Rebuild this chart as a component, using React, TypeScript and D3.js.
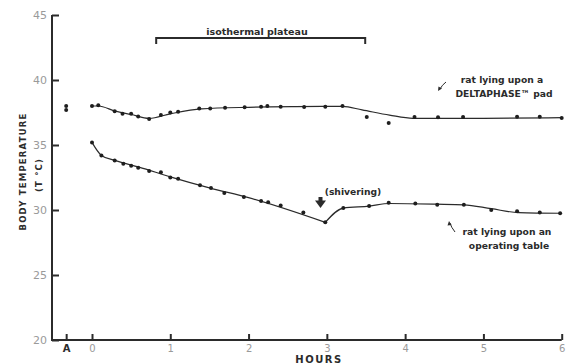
import React, { useEffect, useRef } from 'react';
import * as d3 from 'd3';

// rat lying upon a DELTAPHASE pad (measured dots)
const padHours = [0, 0.08, 0.29, 0.39, 0.5, 0.59, 0.73, 0.88, 1.0, 1.1, 1.37, 1.51, 1.7, 1.95, 2.16, 2.24, 2.41, 2.71, 2.98, 3.2, 3.51, 3.79, 4.12, 4.42, 4.74, 5.43, 5.72, 6.0];
const padTemps = [38.0, 38.05, 37.6, 37.4, 37.4, 37.2, 37.0, 37.3, 37.5, 37.55, 37.8, 37.8, 37.87, 37.9, 37.95, 38.0, 37.95, 37.92, 37.95, 38.0, 37.15, 36.7, 37.15, 37.13, 37.15, 37.18, 37.18, 37.08];

// rat lying upon an operating table (measured dots)
const tableHours = [0, 0.12, 0.29, 0.4, 0.5, 0.59, 0.73, 0.88, 1.0, 1.1, 1.38, 1.52, 1.69, 1.94, 2.16, 2.25, 2.41, 2.7, 2.98, 3.21, 3.54, 3.79, 4.13, 4.41, 4.75, 5.1, 5.43, 5.72, 5.98];
const tableTemps = [35.2, 34.2, 33.8, 33.55, 33.4, 33.25, 33.0, 32.9, 32.5, 32.4, 31.9, 31.7, 31.3, 31.0, 30.7, 30.6, 30.35, 29.8, 29.05, 30.15, 30.3, 30.55, 30.5, 30.4, 30.4, 30.0, 29.9, 29.8, 29.75];

// baseline readings at "A"
const baselineTemps = [38.0, 37.7];

// hand-drawn fitted curves
const padFitHours = [0, 0.08, 0.3, 0.5, 0.73, 1.0, 1.4, 2.0, 2.6, 3.2, 3.45, 3.8, 4.1, 5.0, 6.0];
const padFitTemps = [38.0, 38.0, 37.6, 37.35, 37.05, 37.4, 37.78, 37.9, 37.95, 37.97, 37.7, 37.3, 37.05, 37.05, 37.1];
const tableFitHoursA = [0, 0.12, 0.3, 0.6, 1.0, 1.5, 2.0, 2.98];
const tableFitTempsA = [35.2, 34.2, 33.8, 33.3, 32.55, 31.7, 30.95, 29.05];
const tableFitHoursB = [2.98, 3.21, 3.54, 3.8, 4.4, 4.75, 5.1, 5.45, 6.0];
const tableFitTempsB = [29.05, 30.15, 30.3, 30.5, 30.45, 30.4, 30.1, 29.8, 29.75];

const hourTicks = [0, 1, 2, 3, 4, 5, 6];
const tempTicks = [20, 25, 30, 35, 40, 45];
const A_POS = -0.33;

const W = 573;
const H = 364;
const ink = '#2b2b2b';
const font = 'DejaVu Sans, sans-serif';

export default function App() {
  const ref = useRef<SVGSVGElement>(null);

  useEffect(() => {
    const svg = d3.select(ref.current);
    svg.selectAll('*').remove();

    const x = d3.scaleLinear().domain([0, 6]).range([92, 561.7]);
    const y = d3.scaleLinear().domain([20, 45]).range([340, 15]);

    // y axis
    const yAxis = d3.axisLeft(y).tickValues(tempTicks).tickSizeInner(-7).tickSizeOuter(0).tickPadding(5);
    const gy = svg.append('g').attr('transform', 'translate(52,0)').call(yAxis);
    gy.select('.domain').remove();
    gy.selectAll('line').attr('stroke', ink).attr('stroke-width', 2);
    gy.selectAll('text').attr('fill', '#9a9a9a').attr('font-size', 11).attr('font-family', font);

    // x axis
    const xAxis = d3.axisBottom(x)
      .tickValues([A_POS, ...hourTicks])
      .tickFormat((d: any) => (d < 0 ? 'A' : String(d)))
      .tickSizeInner(-6).tickSizeOuter(0).tickPadding(5);
    const gx = svg.append('g').attr('transform', 'translate(0,340)').call(xAxis);
    gx.select('.domain').remove();
    gx.selectAll('line').attr('stroke', ink).attr('stroke-width', 2);
    gx.selectAll('text')
      .attr('font-family', font).attr('font-size', 10)
      .attr('fill', (d: any) => (d < 0 ? ink : '#9a9a9a'))
      .attr('font-weight', (d: any) => (d < 0 ? 'bold' : 'normal'));

    // axis lines
    svg.append('path').attr('d', `M52,${y(45)}V340H${x(6)}`)
      .attr('fill', 'none').attr('stroke', ink).attr('stroke-width', 2);

    // axis titles
    svg.append('text').attr('transform', 'translate(26,171.5) rotate(-90)')
      .attr('text-anchor', 'middle').attr('font-family', font).attr('font-weight', 'bold')
      .attr('font-size', 8.5).attr('letter-spacing', 1.2).attr('fill', ink)
      .text('BODY TEMPERATURE');
    svg.append('text').attr('transform', 'translate(42,175) rotate(-90)')
      .attr('text-anchor', 'middle').attr('font-family', font).attr('font-weight', 'bold')
      .attr('font-size', 8.5).attr('letter-spacing', 1.2).attr('fill', ink)
      .text('(T °C)');
    svg.append('text').attr('x', 319).attr('y', 363)
      .attr('text-anchor', 'middle').attr('font-family', font).attr('font-weight', 'bold')
      .attr('font-size', 10).attr('letter-spacing', 1.5).attr('fill', ink)
      .text('HOURS');

    // isothermal plateau bracket
    svg.append('path').attr('d', `M${x(0.82)},44V38H${x(3.49)}V44`)
      .attr('fill', 'none').attr('stroke', ink).attr('stroke-width', 2);
    svg.append('text').attr('x', 257).attr('y', 35).attr('text-anchor', 'middle')
      .attr('font-family', font).attr('font-weight', 'bold').attr('font-size', 9.5).attr('fill', ink)
      .text('isothermal plateau');

    // fitted curves
    const line = d3.line<[number, number]>()
      .x(d => x(d[0])).y(d => y(d[1])).curve(d3.curveMonotoneX);
    const curves: [number[], number[]][] = [
      [padFitHours, padFitTemps],
      [tableFitHoursA, tableFitTempsA],
      [tableFitHoursB, tableFitTempsB],
    ];
    curves.forEach(([hs, ts]) => {
      svg.append('path')
        .attr('d', line(hs.map((h, i) => [h, ts[i]] as [number, number])))
        .attr('fill', 'none').attr('stroke', ink).attr('stroke-width', 1.2);
    });

    // dots
    const dots = [
      ...padHours.map((h, i) => [h, padTemps[i]]),
      ...tableHours.map((h, i) => [h, tableTemps[i]]),
      ...baselineTemps.map(t => [A_POS, t]),
    ];
    svg.append('g').selectAll('circle').data(dots).enter().append('circle')
      .attr('cx', d => x(d[0])).attr('cy', d => y(d[1])).attr('r', 2).attr('fill', '#1e1e1e');

    // annotations
    const label = (tx: number, ty: number, s: string) =>
      svg.append('text').attr('x', tx).attr('y', ty).attr('text-anchor', 'middle')
        .attr('font-family', font).attr('font-weight', 'bold').attr('font-size', 9.2)
        .attr('fill', ink).text(s);
    label(502, 83, 'rat lying upon a');
    label(504, 97, 'DELTAPHASE™ pad');
    label(507, 235, 'rat lying upon an');
    label(509, 249, 'operating table');
    label(353, 195, '(shivering)');

    // shivering arrow
    svg.append('rect').attr('x', 318.5).attr('y', 197).attr('width', 4).attr('height', 4).attr('fill', ink);
    svg.append('path').attr('d', 'M315,200.5L326,200.5L320.5,208Z').attr('fill', ink);

    // small pointer arrows
    svg.append('path').attr('d', 'M446,82Q442,85 440,89').attr('fill', 'none').attr('stroke', ink).attr('stroke-width', 1);
    svg.append('path').attr('d', 'M438,91L438.5,86.5L442,88.5Z').attr('fill', ink);
    svg.append('path').attr('d', 'M455,232Q451,227 450,223').attr('fill', 'none').attr('stroke', ink).attr('stroke-width', 1);
    svg.append('path').attr('d', 'M449,221L447.5,225.5L451.5,225Z').attr('fill', ink);
  }, []);

  return (
    <svg ref={ref} width={W} height={H}
      style={{ position: 'absolute', left: 0, top: 0, background: '#fff' }} />
  );
}
